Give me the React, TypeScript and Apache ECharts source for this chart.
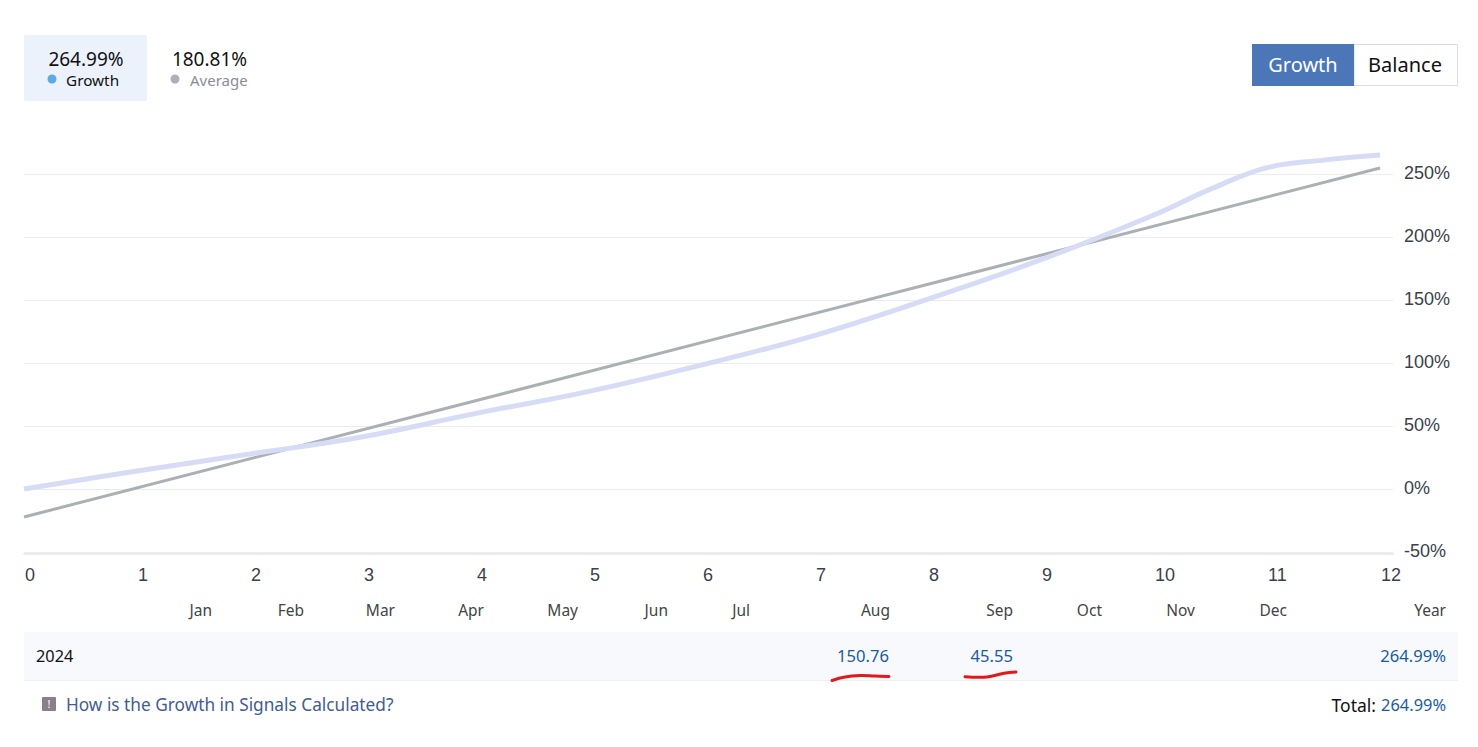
import React, { useEffect, useRef } from "react";
import * as echarts from "echarts";

const growthPoints: [number, number][] = [
  [0, 0], [1, 14.3], [2, 27.8], [3, 41.5], [4, 60], [5, 77.5], [6, 98.5], [7, 122],
  [8, 150.76], [9, 182], [10, 217.5], [10.5, 238], [11, 255], [11.5, 261], [12, 264.99],
];
const averagePoints: [number, number][] = [[0, -22.2], [12, 254.8]];
const monthLabels: [string, number][] = [
  ["Jan", 212], ["Feb", 304], ["Mar", 395], ["Apr", 484], ["May", 578], ["Jun", 668], ["Jul", 750],
  ["Aug", 890], ["Sep", 1013], ["Oct", 1102], ["Nov", 1195], ["Dec", 1287], ["Year", 1446],
];
const rowValues: [string, number][] = [["150.76", 889], ["45.55", 1013], ["264.99%", 1446]];
const scribbleA = [[832, 680.5], [845, 677], [860, 675.5], [875, 676], [889, 676.5]];
const scribbleB = [[965, 676.7], [987, 677], [1004, 673.3], [1016, 672]];

const UI = '"Noto Sans", sans-serif';
const AX = '"Liberation Sans", Arial, sans-serif';

function txt(text: string, x: number, y: number, size: number, fill: string, align = "left") {
  return {
    type: "text",
    style: { text, x, y, fill, align, verticalAlign: "middle", font: `${size}px ${UI}` },
  };
}

export default function App() {
  const ref = useRef<HTMLDivElement>(null);
  useEffect(() => {
    document.body.style.margin = "0";
    document.body.style.background = "#fff";
    const chart = echarts.init(ref.current!, undefined, { renderer: "svg" });
    const graphicElements: any[] = [
      { type: "rect", shape: { x: 24, y: 35, width: 123, height: 66, r: 2 }, style: { fill: "#ebf2fb" } },
      txt("264.99%", 86, 58.5, 19, "#111", "center"),
      { type: "circle", shape: { cx: 52, cy: 79, r: 4.5 }, style: { fill: "#5fa8e6" } },
      txt("Growth", 66, 79.5, 15.3, "#111"),
      txt("180.81%", 209.5, 58.5, 19, "#111", "center"),
      { type: "circle", shape: { cx: 175, cy: 79, r: 4.5 }, style: { fill: "#adb0b6" } },
      txt("Average", 190, 79.5, 15, "#8a8d94"),
      { type: "rect", shape: { x: 1354, y: 44.5, width: 103.5, height: 41 }, style: { fill: "#fff", stroke: "#dcdcdc", lineWidth: 1 } },
      { type: "rect", shape: { x: 1252, y: 44, width: 102, height: 42 }, style: { fill: "#4b76b7" } },
      txt("Growth", 1303, 64.5, 20, "#fff", "center"),
      txt("Balance", 1405, 64.5, 20, "#111", "center"),
      ...monthLabels.map(([m, x]) => txt(m, x, 610, 15.5, "#444", "right")),
      { type: "rect", shape: { x: 24, y: 632, width: 1434, height: 48 }, style: { fill: "#f8f9fd" } },
      { type: "line", shape: { x1: 24, y1: 680.5, x2: 1458, y2: 680.5 }, style: { stroke: "#eef0f4", lineWidth: 1 } },
      txt("2024", 36, 656, 16.3, "#111"),
      ...rowValues.map(([v, x]) => txt(v, x, 655, 16.6, "#1a5c9c", "right")),
      { type: "polyline", shape: { points: scribbleA, smooth: 0.4 }, style: { stroke: "#e01a1a", lineWidth: 3, fill: "none", lineCap: "round" } },
      { type: "polyline", shape: { points: scribbleB, smooth: 0.4 }, style: { stroke: "#e01a1a", lineWidth: 3, fill: "none", lineCap: "round" } },
      { type: "rect", shape: { x: 42, y: 697, width: 14, height: 14, r: 1 }, style: { fill: "#8a7f8a" } },
      txt("!", 49, 703, 11, "#fff", "center"),
      txt("How is the Growth in Signals Calculated?", 66, 704.5, 17.25, "#3f5c92"),
      txt("264.99%", 1446, 704.5, 16.4, "#1a5c9c", "right"),
      txt("Total:", 1376, 704.5, 17.5, "#111", "right"),
    ];
    chart.setOption({
      animation: false,
      backgroundColor: "#fff",
      grid: { left: 24, right: 85, top: 148.8, bottom: 195, containLabel: false },
      xAxis: {
        type: "value",
        min: 0,
        max: 12.115,
        interval: 1,
        offset: 2,
        axisLine: { show: true, onZero: false, lineStyle: { color: "#ececec", width: 2 } },
        axisTick: { show: false },
        splitLine: { show: false },
        axisLabel: {
          showMaxLabel: false,
          align: "left",
          margin: 12,
          padding: [0, 0, 0, 1],
          color: "#3a3f4a",
          fontSize: 18,
          fontFamily: AX,
        },
      },
      yAxis: {
        type: "value",
        position: "right",
        min: -50,
        max: 270,
        interval: 50,
        axisLine: { show: false },
        axisTick: { show: false },
        splitLine: { show: true, showMaxLine: false, lineStyle: { color: "#ececec", width: 1 } },
        axisLabel: {
          showMaxLabel: false,
          margin: 11,
          formatter: "{a|{value}%}",
          rich: {
            a: { padding: [0, 0, 3, 0], color: "#3a3f4a", fontSize: 18, fontFamily: AX },
          },
        },
      },
      series: [
        {
          name: "Average",
          type: "line",
          data: averagePoints,
          showSymbol: false,
          lineStyle: { color: "#aab0b3", width: 3 },
          silent: true,
        },
        {
          name: "Growth",
          type: "line",
          data: growthPoints,
          smooth: 0.4,
          showSymbol: false,
          lineStyle: { color: "#d6dcf5", width: 5 },
          silent: true,
        },
      ],
      graphic: { elements: graphicElements },
    });
    return () => chart.dispose();
  }, []);
  return <div ref={ref} style={{ width: 1478, height: 747 }} />;
}
